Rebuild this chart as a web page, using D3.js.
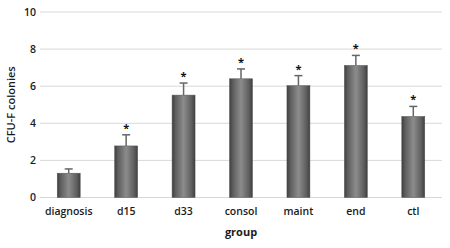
<!DOCTYPE html>
<html><head><meta charset="utf-8">
<script src="https://cdn.jsdelivr.net/npm/d3@7"></script>
<style>body{margin:0;background:#fff}</style>
</head><body>
<svg id="c" width="450" height="248"></svg>
<script>
const categories = ["diagnosis","d15","d33","consol","maint","end","ctl"];
const values = [1.31, 2.78, 5.52, 6.4, 6.03, 7.12, 4.37];
const errors = [0.23, 0.6, 0.65, 0.53, 0.54, 0.54, 0.54];
const significant = [false, true, true, true, true, true, true];
const yTicks = [0,2,4,6,8,10];

const svg = d3.select("#c");
const m = {l:40, r:8, t:12, b:50.5};
const W = 450, H = 248;
const x = d3.scaleBand().domain(categories).range([m.l, W-m.r]).paddingInner(0.6).paddingOuter(0.3);
const y = d3.scaleLinear().domain([0,10]).range([H-m.b, m.t]);
const font = "'Open Sans', sans-serif";

const defs = svg.append("defs");
const g = defs.append("linearGradient").attr("id","bar").attr("x1","0").attr("x2","1").attr("y1","0").attr("y2","0");
g.append("stop").attr("offset","0%").attr("stop-color","#3f3f3f");
g.append("stop").attr("offset","15%").attr("stop-color","#5e5e5e");
g.append("stop").attr("offset","50%").attr("stop-color","#8c8c8c");
g.append("stop").attr("offset","85%").attr("stop-color","#5e5e5e");
g.append("stop").attr("offset","100%").attr("stop-color","#3f3f3f");

// gridlines
svg.append("g").selectAll("line").data(yTicks).join("line")
  .attr("x1", m.l).attr("x2", W-m.r)
  .attr("y1", d=>y(d)).attr("y2", d=>y(d))
  .attr("stroke","#d8d8d8").attr("stroke-width",1);

// y axis labels
const ya = svg.append("g").attr("transform",`translate(${m.l},0)`)
  .call(d3.axisLeft(y).tickValues(yTicks).tickSize(0).tickPadding(4));
ya.select(".domain").remove();
ya.selectAll("text").attr("font-family",font).attr("font-size",10.5).attr("font-weight",600).attr("fill","#1a1a1a");

// x axis labels
const xa = svg.append("g").attr("transform",`translate(0,${y(0)})`)
  .call(d3.axisBottom(x).tickSize(0).tickPadding(10));
xa.select(".domain").remove();
xa.selectAll("text").attr("font-family",font).attr("font-size",10.5).attr("font-weight",600).attr("fill","#1a1a1a");

// bars
svg.append("g").selectAll("rect").data(categories).join("rect")
  .attr("x", d=>x(d)).attr("width", x.bandwidth())
  .attr("y", (d,i)=>y(values[i])).attr("height", (d,i)=>y(0)-y(values[i]))
  .attr("fill","url(#bar)").attr("stroke","#555").attr("stroke-width",0.5);

// error bars
const eb = svg.append("g").attr("stroke","#666").attr("stroke-width",1.5);
categories.forEach((c,i)=>{
  const cx = x(c)+x.bandwidth()/2;
  eb.append("line").attr("x1",cx).attr("x2",cx).attr("y1",y(values[i])).attr("y2",y(values[i]+errors[i]));
  eb.append("line").attr("x1",cx-4).attr("x2",cx+4).attr("y1",y(values[i]+errors[i])).attr("y2",y(values[i]+errors[i]));
});

// asterisks
svg.append("g").selectAll("text").data(categories.filter((c,i)=>significant[i])).join("text")
  .attr("x", d=>x(d)+x.bandwidth()/2)
  .attr("y", d=>{const i=categories.indexOf(d); return y(values[i]+errors[i])-3;})
  .attr("text-anchor","middle").attr("font-family",font).attr("font-size",11).attr("font-weight","bold").attr("fill","#111")
  .text("*");

// axis titles
svg.append("text").attr("x",(m.l+W-m.r)/2).attr("y",236).attr("text-anchor","middle")
  .attr("font-family",font).attr("font-size",11).attr("font-weight","bold").attr("fill","#1a1a1a").text("group");
svg.append("text").attr("transform",`translate(15,${(y(0)+y(10))/2}) rotate(-90)`).attr("text-anchor","middle")
  .attr("font-family",font).attr("font-size",11).attr("font-weight",600).attr("fill","#1a1a1a").text("CFU-F colonies");
</script>
</body></html>
